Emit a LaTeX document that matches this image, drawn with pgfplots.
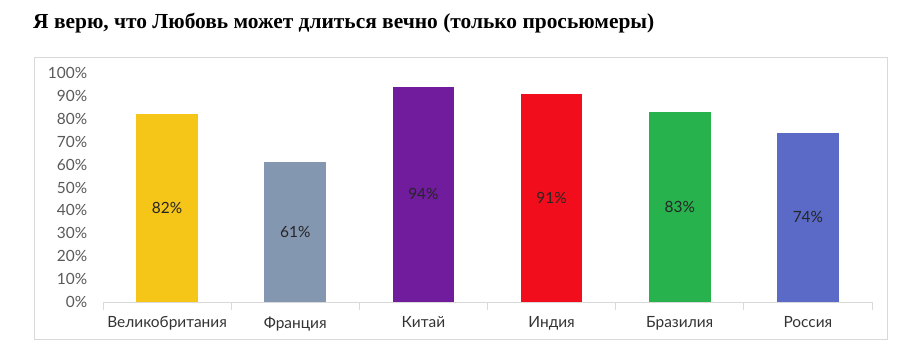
\documentclass[border=0pt]{standalone}
\usepackage{pgfplots}
\pgfplotsset{compat=1.18}
\usepackage{fontspec}
\setmainfont{Lato}
\newfontfamily\titlefont{Liberation Serif}
\definecolor{cUK}{HTML}{F5C518}
\definecolor{cFR}{HTML}{8497B0}
\definecolor{cCN}{HTML}{701C9C}
\definecolor{cIN}{HTML}{F20D1C}
\definecolor{cBR}{HTML}{27B24E}
\definecolor{cRU}{HTML}{5A6AC6}
\definecolor{tickgray}{HTML}{595959}
\definecolor{framegray}{HTML}{D9D9D9}
\begin{document}
\begin{tikzpicture}[x=1bp,y=1bp]
\useasboundingbox (0,0) rectangle (900,360);
\draw[framegray, line width=0.8bp] (34,21) rectangle (887,303);
\node[anchor=base west, inner sep=0pt, font=\titlefont\bfseries\fontsize{21.5}{24}\selectfont] at (33,332) {Я верю, что Любовь может длиться вечно (только просьюмеры)};
\begin{axis}[
  at={(103bp,58bp)}, anchor=south west,
  scale only axis, width=769bp, height=229bp,
  xmin=-0.5, xmax=5.5, ymin=0, ymax=100,
  axis x line=bottom, axis y line=left,
  x axis line style={framegray, line width=0.8bp, -},
  y axis line style={draw=none},
  xtick={0,1,2,3,4,5},
  xticklabels={Великобритания,Франция,Китай,Индия,Бразилия,Россия},
  minor xtick={-0.5,0.5,1.5,2.5,3.5,4.5,5.5},
  major x tick style={draw=none},
  minor x tick style={framegray, line width=0.8bp},
  minor tick length=8bp,
  tick align=outside,
  ytick={0,10,...,100},
  yticklabel={\pgfmathprintnumber{\tick}\%},
  major y tick style={draw=none},
  /pgf/number format/assume math mode=true,
  tick label style={font=\fontsize{15.5}{17}\selectfont, text=tickgray},
  yticklabel style={xshift=-8bp},
  xticklabel style={yshift=-7bp, text=black!80},
  ybar, bar width=0.48, bar shift=0pt,
  clip=false,
]
\addplot[fill=cUK, draw=none] coordinates {(0,82)};
\addplot[fill=cFR, draw=none] coordinates {(1,61)};
\addplot[fill=cCN, draw=none] coordinates {(2,94)};
\addplot[fill=cIN, draw=none] coordinates {(3,91)};
\addplot[fill=cBR, draw=none] coordinates {(4,83)};
\addplot[fill=cRU, draw=none] coordinates {(5,74)};
\addplot[only marks, mark=none, draw=none, point meta=explicit,
  nodes near coords={\pgfmathprintnumber{\pgfplotspointmeta}\%},
  every node near coord/.append style={anchor=center, font=\fontsize{15.5}{17}\selectfont, text=black!85}]
  coordinates {(0,41) [82] (1,30.5) [61] (2,47) [94] (3,45.5) [91] (4,41.5) [83] (5,37) [74]};
\end{axis}
\end{tikzpicture}
\end{document}
